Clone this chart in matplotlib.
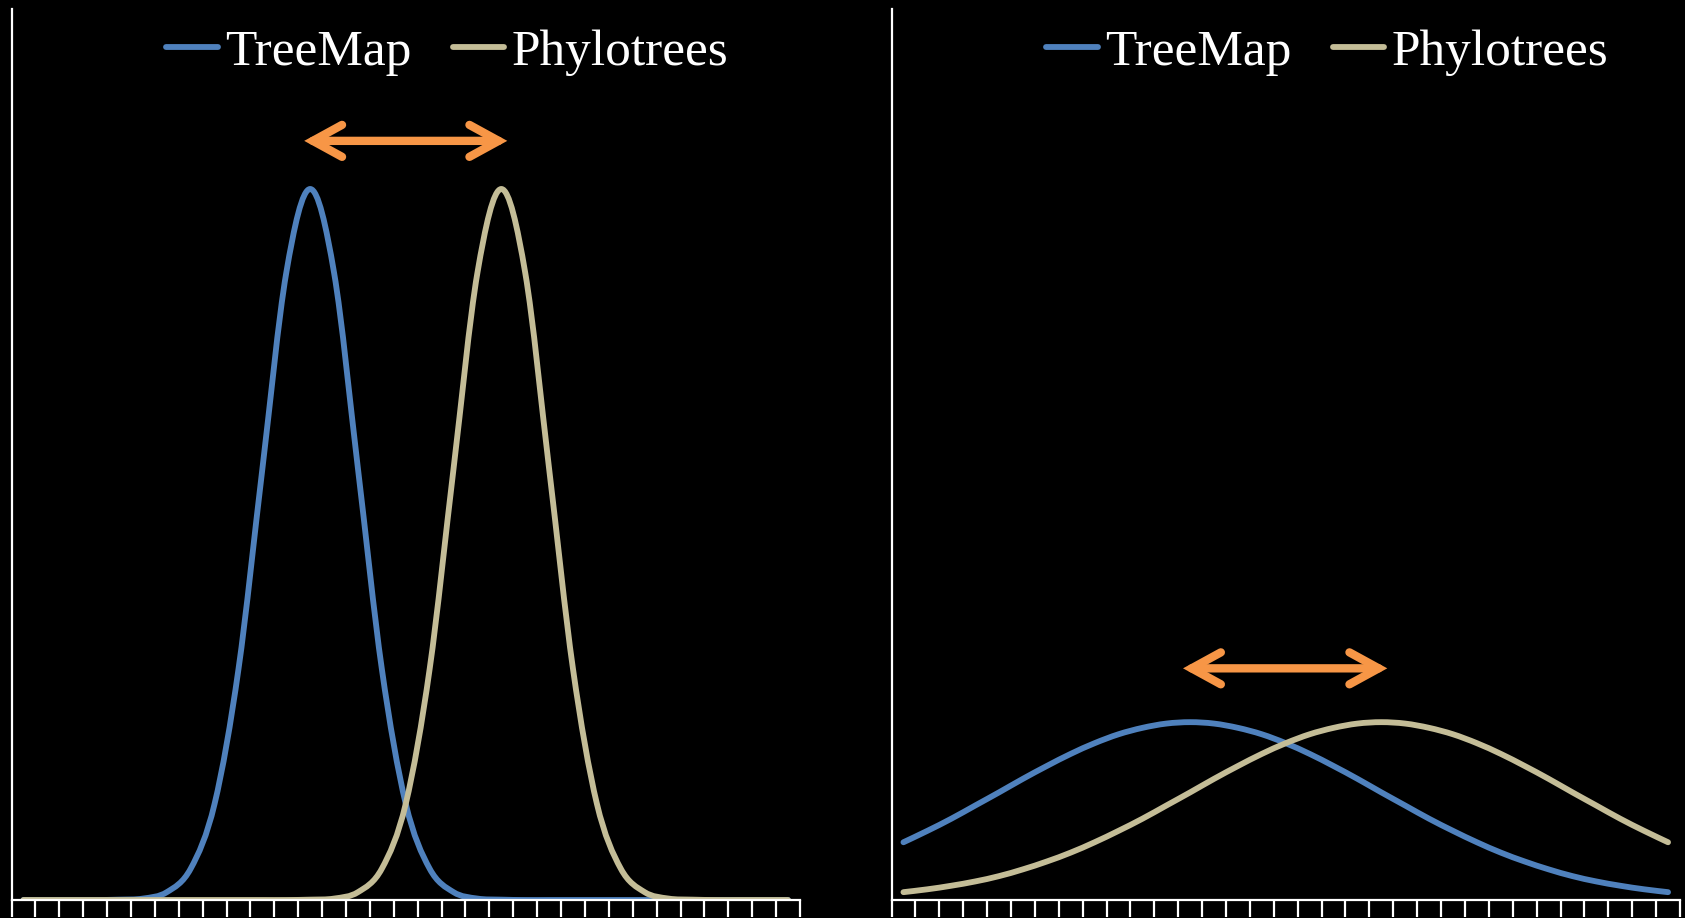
import numpy as np
import matplotlib.pyplot as plt
from matplotlib.path import Path
from matplotlib.patches import PathPatch
from matplotlib.lines import Line2D

plt.rcParams["font.family"] = ["Liberation Serif", "DejaVu Serif"]

# 33 categories on each x axis
categories = list(range(33))

# Left panel (narrow spread)
treemap_narrow = [0, 0, 0, 0, 0.0001, 0.0004, 0.0022, 0.0088, 0.0270, 0.0648,
                  0.1210, 0.1760, 0.1995, 0.1760, 0.1210, 0.0648, 0.0270, 0.0088,
                  0.0022, 0.0004, 0.0001, 0, 0, 0, 0, 0, 0, 0, 0, 0, 0, 0, 0]
phylo_narrow = [0, 0, 0, 0, 0, 0, 0, 0, 0, 0, 0, 0, 0.0001, 0.0004, 0.0022, 0.0088,
                0.0270, 0.0648, 0.1210, 0.1760, 0.1995, 0.1760, 0.1210, 0.0648,
                0.0270, 0.0088, 0.0022, 0.0004, 0.0001, 0, 0, 0, 0]

# Right panel (wide spread)
treemap_wide = [0.0162, 0.0194, 0.0228, 0.0265, 0.0302, 0.0340, 0.0376, 0.0410,
                0.0440, 0.0465, 0.0483, 0.0495, 0.0499, 0.0495, 0.0483, 0.0465,
                0.0440, 0.0410, 0.0376, 0.0340, 0.0302, 0.0265, 0.0228, 0.0194,
                0.0162, 0.0133, 0.0108, 0.0086, 0.0067, 0.0052, 0.0040, 0.0030, 0.0022]
phylo_wide = [0.0022, 0.0030, 0.0040, 0.0052, 0.0067, 0.0086, 0.0108, 0.0133,
              0.0162, 0.0194, 0.0228, 0.0265, 0.0302, 0.0340, 0.0376, 0.0410,
              0.0440, 0.0465, 0.0483, 0.0495, 0.0499, 0.0495, 0.0483, 0.0465,
              0.0440, 0.0410, 0.0376, 0.0340, 0.0302, 0.0265, 0.0228, 0.0194, 0.0162]

series_labels = ["TreeMap", "Phylotrees"]
BLUE = "#4F81BD"
TAN = "#C4BD97"
ORANGE = "#F79646"
LW = 4.2


def smooth_line(ax, x, y, color):
    # Excel-style smoothed line drawn as cubic bezier segments
    x = np.asarray(x, float)
    y = np.asarray(y, float)
    pts = np.column_stack([x, y])
    verts = [pts[0]]
    codes = [Path.MOVETO]
    n = len(pts)
    for i in range(n - 1):
        p0 = pts[max(i - 1, 0)]
        p1 = pts[i]
        p2 = pts[i + 1]
        p3 = pts[min(i + 2, n - 1)]
        c1 = p1 + (p2 - p0) / 6
        c2 = p2 - (p3 - p1) / 6
        verts += [c1, c2, p2]
        codes += [Path.CURVE4] * 3
    patch = PathPatch(Path(verts, codes), fill=False, edgecolor=color,
                      lw=LW, capstyle="round", joinstyle="round")
    ax.add_patch(patch)


fig = plt.figure(figsize=(16.85, 9.18), dpi=100, facecolor="black")
ax1 = fig.add_axes([11.5 / 1685, 18 / 918, 788.5 / 1685, 891 / 918])
ax2 = fig.add_axes([891.5 / 1685, 18 / 918, 788.5 / 1685, 891 / 918])

panels = [
    (ax1, treemap_narrow, phylo_narrow, (11.75, 20.25, 0.2130)),
    (ax2, treemap_wide, phylo_wide, (11.7, 20.25, 0.065)),
]

for ax, blue_vals, tan_vals, arrow in panels:
    ax.set_facecolor("black")
    smooth_line(ax, categories, blue_vals, BLUE)
    smooth_line(ax, categories, tan_vals, TAN)

    ax.set_xlim(-0.5, len(categories) - 0.5)
    ax.set_ylim(0, 0.25)
    ax.set_xticks(np.arange(-0.5, len(categories), 1))
    ax.set_xticklabels([])
    ax.set_yticks([])
    ax.tick_params(axis="x", direction="out", length=12.5, width=1.6,
                   color="white")
    for side in ["top", "right"]:
        ax.spines[side].set_visible(False)
    for side in ["left", "bottom"]:
        ax.spines[side].set_color("white")
        ax.spines[side].set_linewidth(1.6)

    x0, x1, ya = arrow
    ax.annotate("", xy=(x1, ya), xytext=(x0, ya),
                arrowprops=dict(arrowstyle="<->,head_length=2.1,head_width=1.15",
                                lw=6, color=ORANGE, shrinkA=0, shrinkB=0,
                                capstyle="round", joinstyle="miter"))

    handles = [Line2D([], [], color=BLUE, lw=LW, solid_capstyle="round"),
               Line2D([], [], color=TAN, lw=LW, solid_capstyle="round")]
    ax.legend(handles, series_labels, loc="center", bbox_to_anchor=(0.553, 0.951),
              ncol=2, frameon=False, fontsize=37, labelcolor="white",
              handlelength=1.0, handletextpad=0.15, columnspacing=0.8,
              borderpad=0, borderaxespad=0)

fig.savefig("out.png", dpi=100, facecolor="black")
